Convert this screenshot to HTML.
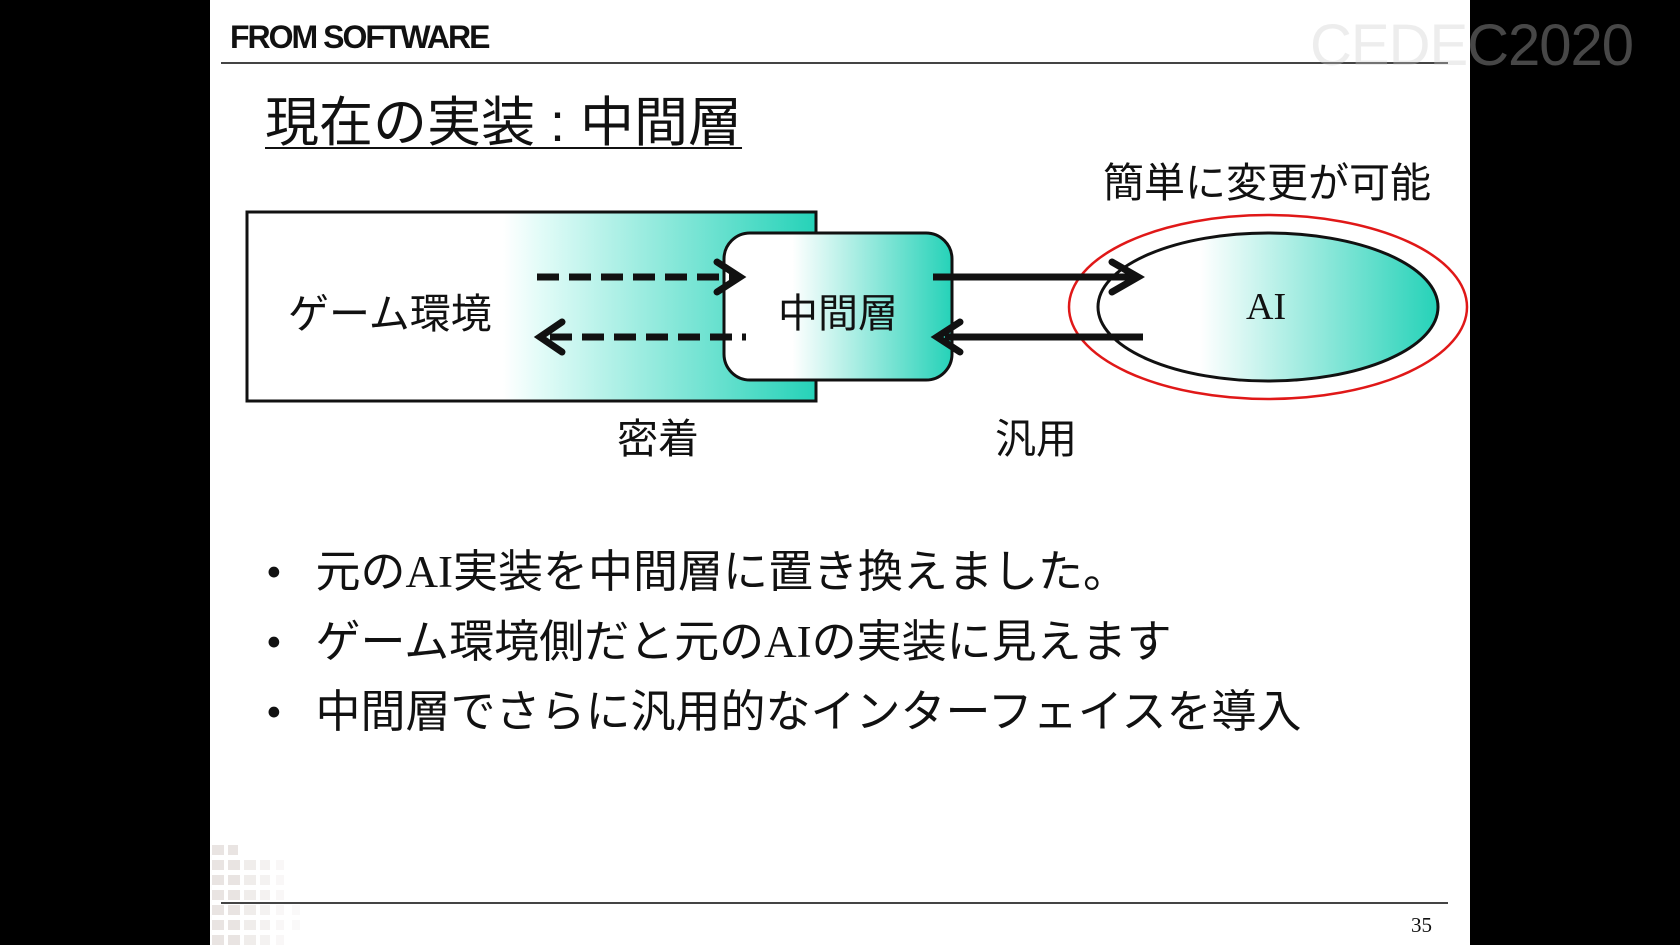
<!DOCTYPE html>
<html><head><meta charset="utf-8"><style>
html,body{margin:0;padding:0;width:1680px;height:945px;background:#000;overflow:hidden}
.s{position:absolute;left:210px;top:0;width:1260px;height:945px;background:#fff}
.t{position:absolute;font-family:"Liberation Sans","Noto Sans CJK JP",sans-serif;color:#111;white-space:nowrap}
</style></head><body>
<div class="s"></div>
<svg style="position:absolute;left:0;top:0" width="1680" height="945">
<defs>
<linearGradient id="g1" x1="0" x2="1"><stop offset="0" stop-color="#fff"/><stop offset="0.45" stop-color="#fff"/><stop offset="0.52" stop-color="#e0fbf7"/><stop offset="1" stop-color="#25d2b8"/></linearGradient>
<linearGradient id="g2" x1="0" x2="1"><stop offset="0" stop-color="#fff"/><stop offset="0.3" stop-color="#fff"/><stop offset="1" stop-color="#25d2b8"/></linearGradient>
<linearGradient id="g3" x1="0" x2="1"><stop offset="0" stop-color="#fff"/><stop offset="0.3" stop-color="#fff"/><stop offset="1" stop-color="#25d2b8"/></linearGradient>
</defs>
<g fill="#e4dedb" opacity="0.8">
<rect x="212" y="845" width="12" height="10"/><rect x="228" y="845" width="10" height="10"/>
<rect x="212" y="860" width="12" height="10"/><rect x="228" y="860" width="12" height="10"/><rect x="244" y="860" width="12" height="10" opacity=".7"/><rect x="260" y="860" width="10" height="10" opacity=".5"/><rect x="276" y="860" width="8" height="10" opacity=".3"/>
<rect x="212" y="875" width="12" height="10"/><rect x="228" y="875" width="12" height="10"/><rect x="244" y="875" width="12" height="10" opacity=".7"/><rect x="260" y="875" width="10" height="10" opacity=".5"/><rect x="276" y="875" width="8" height="10" opacity=".3"/>
<rect x="212" y="890" width="12" height="10"/><rect x="228" y="890" width="12" height="10"/><rect x="244" y="890" width="12" height="10" opacity=".7"/><rect x="260" y="890" width="10" height="10" opacity=".5"/><rect x="276" y="890" width="8" height="10" opacity=".3"/>
<rect x="212" y="905" width="12" height="10"/><rect x="228" y="905" width="12" height="10"/><rect x="244" y="905" width="12" height="10" opacity=".7"/><rect x="260" y="905" width="10" height="10" opacity=".5"/><rect x="276" y="905" width="8" height="10" opacity=".3"/><rect x="292" y="905" width="8" height="10" opacity=".2"/>
<rect x="212" y="920" width="12" height="10"/><rect x="228" y="920" width="12" height="10"/><rect x="244" y="920" width="12" height="10" opacity=".7"/><rect x="260" y="920" width="10" height="10" opacity=".5"/><rect x="276" y="920" width="8" height="10" opacity=".3"/><rect x="292" y="920" width="8" height="10" opacity=".2"/>
<rect x="212" y="935" width="12" height="10"/><rect x="228" y="935" width="12" height="10"/><rect x="244" y="935" width="12" height="10" opacity=".7"/><rect x="260" y="935" width="10" height="10" opacity=".5"/><rect x="276" y="935" width="8" height="10" opacity=".3"/>
</g>
<line x1="221" y1="63" x2="1448" y2="63" stroke="#444" stroke-width="2"/>
<line x1="221" y1="903" x2="1448" y2="903" stroke="#444" stroke-width="2"/>
<rect x="247" y="212" width="569" height="189" fill="url(#g1)" stroke="#111" stroke-width="3"/>
<rect x="724" y="233" width="228" height="147" rx="26" fill="url(#g2)" stroke="#111" stroke-width="3"/>
<ellipse cx="1268" cy="307" rx="170" ry="74" fill="url(#g3)" stroke="#111" stroke-width="3"/>
<ellipse cx="1268" cy="307" rx="199" ry="92" fill="none" stroke="#e01818" stroke-width="2.5"/>
<g stroke="#111" stroke-width="7" fill="none" stroke-linecap="round">
<line x1="537" y1="277" x2="738" y2="277" stroke-dasharray="22,10" stroke-linecap="butt"/>
<polyline points="717,262 740,277 717,292"/>
<line x1="550" y1="337" x2="746" y2="337" stroke-dasharray="22,10" stroke-linecap="butt"/>
<polyline points="562,322 540,337 562,352"/>
<line x1="933" y1="277" x2="1138" y2="277" stroke-linecap="butt"/>
<polyline points="1112,262 1138,277 1112,292"/>
<line x1="945" y1="337" x2="1143" y2="337" stroke-linecap="butt"/>
<polyline points="960,322 937,337 960,352"/>
</g>
</svg>
<div class="t" style="left:230px;top:19px;font-size:32px;font-weight:bold;letter-spacing:-2px">FROM SOFTWARE</div>
<div class="t" style="left:1310px;top:12px;font-size:58px;color:#ccc;opacity:.35;letter-spacing:-1px">CEDEC2020</div>
<div class="t" style="left:265px;top:78px;font-size:54px;text-decoration:underline;text-decoration-thickness:2px;text-underline-offset:6px">現在の実装 : 中間層</div>
<div class="t" style="left:1103px;top:149px;font-size:41px">簡単に変更が可能</div>
<div class="t" style="left:288px;top:280px;font-size:41px">ゲーム環境</div>
<div class="t" style="left:778px;top:281px;font-size:40px">中間層</div>
<div class="t" style="left:1246px;top:285px;font-size:38px;font-family:'Liberation Serif',serif">AI</div>
<div class="t" style="left:617px;top:405px;font-size:41px">密着</div>
<div class="t" style="left:995px;top:405px;font-size:41px">汎用</div>
<div class="t" style="left:266px;top:537px;font-size:45px;line-height:70px;font-family:'Liberation Serif','Noto Sans CJK JP',sans-serif">
•&nbsp;&nbsp;&nbsp;元のAI実装を中間層に置き換えました。<br>
•&nbsp;&nbsp;&nbsp;ゲーム環境側だと元のAIの実装に見えます<br>
•&nbsp;&nbsp;&nbsp;中間層でさらに汎用的なインターフェイスを導入</div>
<div class="t" style="left:1411px;top:913px;font-size:21px;font-family:'Liberation Serif',serif">35</div>
</body></html>
